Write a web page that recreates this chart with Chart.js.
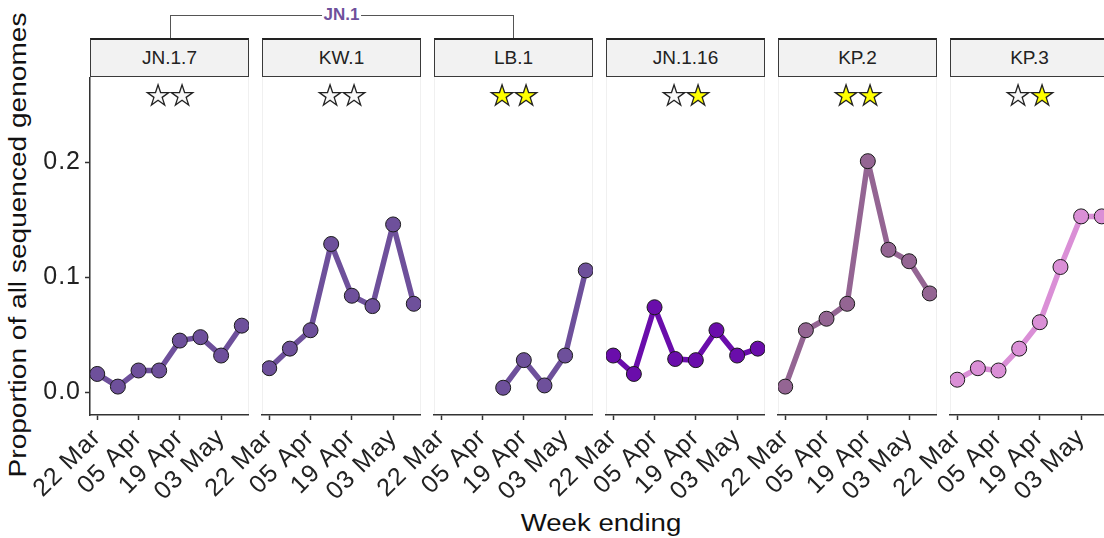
<!DOCTYPE html>
<html>
<head>
<meta charset="utf-8">
<script src="https://cdn.jsdelivr.net/npm/chart.js@4"></script>
<style>
  body { margin: 0; background: #fff; }
  #wrap { position: relative; width: 1104px; height: 538px; overflow: hidden;
          font-family: "Liberation Sans", Arial, sans-serif; color: #222; }
  .panel-bg { position: absolute; box-sizing: border-box; border-left: 1px solid #f0f0f0; border-right: 1px solid #f0f0f0; }
  .strip { position: absolute; box-sizing: border-box; background: #f2f2f2;
           border: 1px solid #3a3a3a; border-top: 2px solid #222;
           font-size: 19px; color: #222; text-align: center; }
  .stars { position: absolute; text-align: center; font-family: "DejaVu Sans", sans-serif;
           font-size: 28px; line-height: 28px; letter-spacing: -1px; }
  .stars span { -webkit-text-stroke: 1.3px #222; }
  canvas { position: absolute; }
  #bracket { position: absolute; box-sizing: border-box; border: 1px solid #555; border-bottom: none; }
  #bracket span { position: absolute; left: 50%; top: -11px; transform: translateX(-50%);
                  background: #fff; padding: 0 2px; font-weight: bold; font-size: 17px; color: #6e509b; }
  #ytitle { position: absolute; left: 18px; top: 245px; white-space: nowrap; font-size: 23px;
            transform: translate(-50%, -50%) rotate(-90deg) scale(1.22, 1); color: #111; }
  #xtitle { position: absolute; left: 601px; top: 523px; white-space: nowrap; font-size: 23px;
            transform: translate(-50%, -50%) scale(1.2, 1); color: #111; }
</style>
</head>
<body>
<div id="wrap">
  <div id="bracket"><span>JN.1</span></div>
  <div id="ytitle">Proportion of all sequenced genomes</div>
  <div id="xtitle">Week ending</div>
</div>
<script>
// weekly sequencing proportions per lineage (week ending dates)
const WEEKS = ["22 Mar", "29 Mar", "05 Apr", "12 Apr", "19 Apr", "26 Apr", "03 May", "10 May"]
const TICK_WEEKS = [0, 2, 4, 6]
const Y_TICKS = [0, 0.1, 0.2]

const VARIANTS = ["JN.1.7", "KW.1", "LB.1", "JN.1.16", "KP.2", "KP.3"]
const COLORS = ["#6e509b", "#6e509b", "#6e509b", "#6a0dab", "#946593", "#da8fd6"]
// 1 = filled (yellow) star, 0 = empty star
const STARS = [[0, 0], [0, 0], [1, 1], [0, 1], [1, 1], [0, 1]]

const JN_1_7 = [0.016, 0.005, 0.019, 0.019, 0.045, 0.048, 0.032, 0.058]
const KW_1 = [0.021, 0.038, 0.054, 0.129, 0.084, 0.075, 0.146, 0.077]
const LB_1 = [null, null, null, 0.004, 0.028, 0.006, 0.032, 0.106]
const JN_1_16 = [0.032, 0.016, 0.074, 0.029, 0.028, 0.054, 0.032, 0.038]
const KP_2 = [0.005, 0.054, 0.064, 0.077, 0.201, 0.124, 0.114, 0.086]
const KP_3 = [0.011, 0.021, 0.019, 0.038, 0.061, 0.109, 0.153, 0.153]
const SERIES = [JN_1_7, KW_1, LB_1, JN_1_16, KP_2, KP_3]

const PANEL_LEFT = 90
const PANEL_STEP = 172
const PANEL_W = 159
const STRIP_TOP = 38
const PLOT_TOP = 77
const PLOT_BOTTOM = 415
const LEFT_ROOM = 80
const CANVAS_H = 425
const AXIS_COLOR = "#333"
const TICK_FONT = { family: "'Liberation Sans', Arial, sans-serif", size: 25 }

const wrap = document.getElementById("wrap")

// JN.1 bracket spans the centres of the first and third panels
const bracket = document.getElementById("bracket")
const bLeft = PANEL_LEFT + PANEL_W / 2
const bRight = PANEL_LEFT + 2 * PANEL_STEP + PANEL_W / 2
Object.assign(bracket.style, {
  left: bLeft + "px", width: (bRight - bLeft) + "px", top: "15px", height: (STRIP_TOP - 15) + "px"
})

function el(tag, cls, styles) {
  const e = document.createElement(tag)
  if (cls) e.className = cls
  Object.assign(e.style, styles)
  wrap.appendChild(e)
  return e
}

// the reference axis text is set a little wider than Liberation Sans
const wideText = {
  id: "wideText",
  beforeDraw(chart) { chart.ctx.letterSpacing = "1px" }
}

VARIANTS.forEach((name, i) => {
  const left = PANEL_LEFT + i * PANEL_STEP

  el("div", "panel-bg", {
    left: left + "px", top: PLOT_TOP + "px", width: PANEL_W + "px", height: (PLOT_BOTTOM - PLOT_TOP) + "px"
  })

  const strip = el("div", "strip", {
    left: left + "px", top: STRIP_TOP + "px", width: PANEL_W + "px",
    height: (PLOT_TOP - STRIP_TOP) + "px", lineHeight: (PLOT_TOP - STRIP_TOP - 3) + "px"
  })
  strip.textContent = name

  const canvas = el("canvas", null, { left: (left - LEFT_ROOM) + "px", top: PLOT_TOP + "px" })
  canvas.width = LEFT_ROOM + PANEL_W
  canvas.height = CANVAS_H

  const stars = el("div", "stars", { left: left + "px", top: "82px", width: PANEL_W + "px" })
  stars.innerHTML = STARS[i]
    .map((f) => `<span style="color:${f ? "#ffff00" : "#f8f8f8"}">★</span>`)
    .join("")

  const points = SERIES[i]
    .map((v, w) => ({ x: w, y: v }))
    .filter((p) => p.y !== null)

  const isFirst = i === 0

  new Chart(canvas.getContext("2d"), {
    type: "line",
    plugins: [wideText],
    data: {
      datasets: [{
        data: points,
        borderColor: COLORS[i],
        borderWidth: 5.5,
        borderJoinStyle: "round",
        borderCapStyle: "round",
        pointRadius: 7.5,
        pointBackgroundColor: COLORS[i],
        pointBorderColor: "#1a1a1a",
        pointBorderWidth: 1,
        tension: 0,
        fill: false
      }]
    },
    options: {
      responsive: false,
      animation: false,
      layout: { autoPadding: false, padding: { left: isFirst ? 0 : LEFT_ROOM, right: 0, top: 0, bottom: 0 } },
      plugins: { legend: { display: false }, tooltip: { enabled: false } },
      scales: {
        x: {
          type: "linear",
          min: -0.35,
          max: 7.35,
          afterBuildTicks: (axis) => { axis.ticks = TICK_WEEKS.map((v) => ({ value: v })) },
          afterFit: (s) => {
            s.height = CANVAS_H - (PLOT_BOTTOM - PLOT_TOP)
            s.paddingLeft = 0
            s.paddingRight = 0
          },
          border: { display: true, color: AXIS_COLOR, width: 1.5 },
          grid: { drawOnChartArea: false, drawTicks: true, tickLength: 5, tickColor: AXIS_COLOR, tickWidth: 1.5 },
          ticks: {
            autoSkip: false,
            minRotation: 45,
            maxRotation: 45,
            padding: 3,
            color: "#222",
            font: TICK_FONT,
            callback: (v) => WEEKS[v]
          }
        },
        y: {
          display: isFirst,
          min: -0.0197,
          max: 0.2742,
          afterBuildTicks: (axis) => { axis.ticks = Y_TICKS.map((v) => ({ value: v })) },
          afterFit: (s) => {
            if (isFirst) s.width = LEFT_ROOM
            s.paddingTop = 0
            s.paddingBottom = 0
          },
          border: { display: true, color: AXIS_COLOR, width: 1.5 },
          grid: { drawOnChartArea: false, drawTicks: true, tickLength: 5, tickColor: AXIS_COLOR, tickWidth: 1.5 },
          ticks: {
            padding: 4,
            color: "#222",
            font: TICK_FONT,
            callback: (v) => v.toFixed(1)
          }
        }
      }
    }
  })
})

// bracket label on top of everything
wrap.appendChild(bracket)
</script>
</body>
</html>
